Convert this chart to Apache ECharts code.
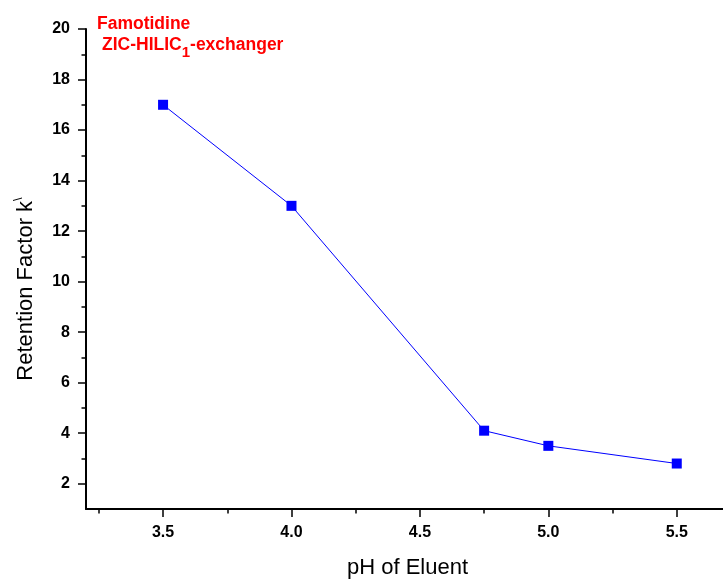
<!DOCTYPE html>
<html>
<head>
<meta charset="utf-8">
<script src="https://cdn.jsdelivr.net/npm/echarts@6/dist/echarts.min.js"></script>
<style>
html,body{margin:0;padding:0;background:#fff;}
#chart{width:723px;height:581px;}
</style>
</head>
<body>
<div id="chart"></div>
<script>
const pHValues = [3.5, 4.0, 4.75, 5.0, 5.5];
const kValues = [17.0, 13.0, 4.1, 3.5, 2.8];
const xMajorTicks = [3.5, 4.0, 4.5, 5.0, 5.5];
const xMinorTicks = [3.25, 3.75, 4.25, 4.75, 5.25];
const yMajorTicks = [2, 4, 6, 8, 10, 12, 14, 16, 18, 20];
const yMinorTicks = [3, 5, 7, 9, 11, 13, 15, 17, 19];
const titleLine1 = 'Famotidine';
const titleLine2a = 'ZIC-HILIC';
const titleSub = '1';
const titleLine2b = '-exchanger';

const FONT = 'Liberation Sans, Arial, sans-serif';
const chart = echarts.init(document.getElementById('chart'));

const tickLabelStyle = {fontFamily: FONT, fontWeight: 'bold', fontSize: 16, color: '#000'};

chart.setOption({
  animation: false,
  backgroundColor: '#fff',
  title: [
    {text: titleLine1, left: 97, top: 15, padding: 0,
     textStyle: {fontFamily: FONT, fontWeight: 'bold', fontSize: 17.5, color: '#ff0000'}},
    {text: '{b|' + titleLine2a + '}{c|' + titleSub + '}{b|' + titleLine2b + '}', left: 102, top: 36, padding: 0,
     textStyle: {rich: {
       b: {fontFamily: FONT, fontWeight: 'bold', fontSize: 17.5, color: '#ff0000', verticalAlign: 'top', lineHeight: 20},
       c: {fontFamily: FONT, fontWeight: 'bold', fontSize: 15, color: '#ff0000', verticalAlign: 'top', lineHeight: 18, padding: [9, 0, 0, 0]}
     }}}
  ],
  grid: {left: 86, top: 29, right: 0, bottom: 72, containLabel: false, outerBoundsMode: 'none'},
  xAxis: [
    {type: 'value', min: 3.2, max: 5.68, position: 'bottom',
     axisLine: {show: true, onZero: false, lineStyle: {color: '#000', width: 2}},
     axisTick: {show: true, customValues: xMajorTicks, length: 8, lineStyle: {color: '#000', width: 1.5}},
     axisLabel: Object.assign({customValues: xMajorTicks, margin: 16, formatter: v => v.toFixed(1)}, tickLabelStyle),
     splitLine: {show: false},
     name: 'pH of Eluent', nameLocation: 'middle', nameGap: 48,
     nameTextStyle: {fontFamily: FONT, fontSize: 22, color: '#000', padding: [0, 0, 0, 6]}},
    {type: 'value', min: 3.2, max: 5.68, position: 'bottom',
     axisLine: {show: false, onZero: false},
     axisTick: {show: true, customValues: xMinorTicks, length: 4.5, lineStyle: {color: '#000', width: 1.5}},
     axisLabel: {show: false}, splitLine: {show: false}}
  ],
  yAxis: [
    {type: 'value', min: 1, max: 20, position: 'left',
     axisLine: {show: true, onZero: false, lineStyle: {color: '#000', width: 2}},
     axisTick: {show: true, customValues: yMajorTicks, length: 8, lineStyle: {color: '#000', width: 1.5}},
     axisLabel: Object.assign({customValues: yMajorTicks, margin: 16}, tickLabelStyle),
     splitLine: {show: false},
     name: 'Retention Factor k{s|\\}', nameLocation: 'middle', nameGap: 46, nameRotate: 90,
     nameTextStyle: {fontFamily: FONT, fontSize: 22, color: '#000', padding: [0, 0, 0, -40],
       rich: {s: {fontFamily: FONT, fontSize: 13, color: '#000', padding: [0, 0, 15, 0]}}}},
    {type: 'value', min: 1, max: 20, position: 'left',
     axisLine: {show: false, onZero: false},
     axisTick: {show: true, customValues: yMinorTicks, length: 4.5, lineStyle: {color: '#000', width: 1.5}},
     axisLabel: {show: false}, splitLine: {show: false}}
  ],
  series: [{
    type: 'line',
    xAxisIndex: 0, yAxisIndex: 0,
    data: pHValues.map((x, i) => [x, kValues[i]]),
    symbol: 'rect', symbolSize: 10,
    itemStyle: {color: '#0000ff'},
    lineStyle: {color: '#0000ff', width: 1},
    z: 3
  }]
});
</script>
</body>
</html>
